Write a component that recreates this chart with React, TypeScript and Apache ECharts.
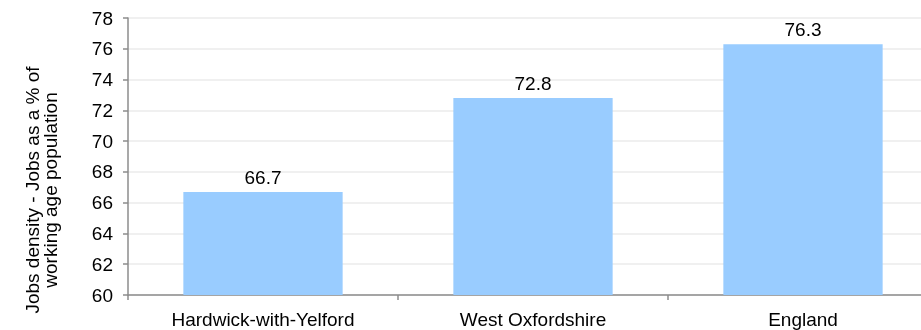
import React, { useEffect, useRef } from "react";
import * as echarts from "echarts";

const categories = ["Hardwick-with-Yelford", "West Oxfordshire", "England"];
const values = [66.7, 72.8, 76.3];
const yAxisTitle = "Jobs density - Jobs as a % of\nworking age population";

export default function App() {
  const ref = useRef<HTMLDivElement>(null);
  useEffect(() => {
    if (!ref.current) return;
    document.body.style.overflow = "hidden";
    const chart = echarts.init(ref.current, null, { renderer: "svg" });
    const font = "Liberation Sans, Arial, sans-serif";
    chart.setOption({
      animation: false,
      grid: { left: 128, top: 18, bottom: 35, right: 2, containLabel: false },
      graphic: [
        {
          type: "text",
          x: 41,
          y: 190,
          rotation: Math.PI / 2,
          style: {
            text: yAxisTitle,
            fill: "#000",
            fontSize: 19,
            fontFamily: font,
            lineHeight: 18,
            align: "center",
            verticalAlign: "middle",
          },
        },
      ],
      xAxis: {
        type: "category",
        data: categories,
        axisLine: { lineStyle: { color: "#8c8c8c", width: 1.5 } },
        axisTick: { show: true, length: 5, lineStyle: { color: "#8c8c8c", width: 1.5 } },
        axisLabel: { color: "#000", fontSize: 19, fontFamily: font, margin: 15 },
      },
      yAxis: {
        type: "value",
        min: 60,
        max: 78,
        interval: 2,
        axisLine: { show: true, lineStyle: { color: "#8c8c8c", width: 1.5 } },
        axisTick: { show: true, length: 5, lineStyle: { color: "#8c8c8c", width: 1.5 } },
        axisLabel: { color: "#000", fontSize: 19, fontFamily: font, margin: 15 },
        splitLine: { lineStyle: { color: "#ebebeb", width: 1.5 } },
      },
      series: [
        {
          type: "bar",
          data: values,
          barWidth: "59%",
          itemStyle: { color: "#99ccff" },
          label: {
            show: true,
            position: "top",
            color: "#000",
            fontSize: 19,
            fontFamily: font,
            distance: 5,
            formatter: (p: any) => p.value.toFixed(1),
          },
        },
      ],
    });
    return () => chart.dispose();
  }, []);
  return (
    <div
      ref={ref}
      style={{ position: "fixed", left: 0, top: 0, width: 940, height: 330 }}
    />
  );
}
